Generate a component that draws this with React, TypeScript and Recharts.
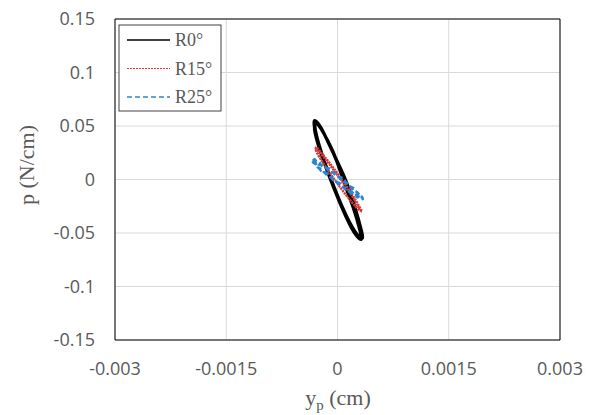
import React from 'react';
import { LineChart, Line, XAxis, YAxis, CartesianGrid, ReferenceArea } from 'recharts';

// hysteresis loops (y_p in cm, p in N/cm)
const r0Loop = [
  { x: -0.0003, y: 0.054 }, { x: -0.000215, y: 0.0468 }, { x: -0.000072, y: 0.027 }, { x: 0.00009, y: 0 },
  { x: 0.000228, y: -0.027 }, { x: 0.000305, y: -0.0468 }, { x: 0.0003, y: -0.054 }, { x: 0.000215, y: -0.0468 },
  { x: 0.000072, y: -0.027 }, { x: -0.00009, y: 0 }, { x: -0.000228, y: 0.027 }, { x: -0.000305, y: 0.0468 },
  { x: -0.00031, y: 0.055 }, { x: -0.00022, y: 0.048 }, { x: -0.00008, y: 0.028 }, { x: 0.0001, y: 0.001 },
  { x: 0.00024, y: -0.027 }, { x: 0.00032, y: -0.047 }, { x: 0.00033, y: -0.055 }, { x: 0.00023, y: -0.048 },
  { x: 0.00008, y: -0.028 }, { x: -0.00008, y: -0.001 }, { x: -0.00022, y: 0.026 }, { x: -0.0003, y: 0.047 },
  { x: -0.00029, y: 0.053 }, { x: -0.00021, y: 0.046 }, { x: -0.00006, y: 0.026 }, { x: 0.00008, y: -0.001 },
  { x: 0.00022, y: -0.028 }, { x: 0.0003, y: -0.047 }, { x: 0.00032, y: -0.056 }, { x: 0.00022, y: -0.049 },
  { x: 0.00007, y: -0.028 }, { x: -0.0001, y: 0.001 }, { x: -0.00024, y: 0.028 }, { x: -0.00031, y: 0.047 },
  { x: -0.00029, y: 0.053 },
];

const r15Loop = [
  { x: -0.0003, y: 0.029 }, { x: -0.00024, y: 0.0251 }, { x: -0.000115, y: 0.0145 }, { x: 0.00004, y: 0 },
  { x: 0.000185, y: -0.0145 }, { x: 0.00028, y: -0.0251 }, { x: 0.0003, y: -0.029 }, { x: 0.00024, y: -0.0251 },
  { x: 0.000115, y: -0.0145 }, { x: -0.00004, y: 0 }, { x: -0.000185, y: 0.0145 }, { x: -0.00028, y: 0.0251 },
  { x: -0.00029, y: 0.03 }, { x: -0.00023, y: 0.026 }, { x: -0.0001, y: 0.015 }, { x: 0.00005, y: 0.001 },
  { x: 0.0002, y: -0.014 }, { x: 0.0003, y: -0.026 }, { x: 0.00033, y: -0.03 }, { x: 0.00026, y: -0.026 },
  { x: 0.00012, y: -0.015 }, { x: -0.00003, y: -0.001 }, { x: -0.00018, y: 0.014 }, { x: -0.00027, y: 0.025 },
  { x: -0.00029, y: 0.03 },
];

const r25Loop = [
  { x: -0.00033, y: 0.018 }, { x: -0.0003, y: 0.0185 }, { x: -0.00026, y: 0.014 }, { x: -0.00019, y: 0.0135 },
  { x: -0.00011, y: 0.0075 }, { x: -0.00003, y: 0.0055 }, { x: 0.00006, y: -0.001 }, { x: 0.00014, y: -0.004 },
  { x: 0.00022, y: -0.0105 }, { x: 0.00027, y: -0.012 }, { x: 0.00032, y: -0.0165 }, { x: 0.00033, y: -0.016 },
  { x: 0.00034, y: -0.0185 }, { x: 0.0003, y: -0.016 }, { x: 0.00026, y: -0.0165 }, { x: 0.00019, y: -0.0115 },
  { x: 0.00011, y: -0.0095 }, { x: 0.00003, y: -0.0035 }, { x: -0.00006, y: -0.0005 }, { x: -0.00014, y: 0.0058 },
  { x: -0.00022, y: 0.008 }, { x: -0.00028, y: 0.0138 }, { x: -0.00031, y: 0.0148 }, { x: -0.00034, y: 0.0182 },
  { x: -0.00032, y: 0.0175 }, { x: -0.00031, y: 0.016 }, { x: -0.00025, y: 0.0165 }, { x: -0.0002, y: 0.0118 },
  { x: -0.0001, y: 0.0098 }, { x: -0.00002, y: 0.0035 }, { x: 0.00007, y: 0.0012 }, { x: 0.00015, y: -0.0058 },
  { x: 0.00021, y: -0.0078 }, { x: 0.00028, y: -0.0138 }, { x: 0.00031, y: -0.0145 }, { x: 0.00034, y: -0.018 },
  { x: 0.00033, y: -0.0172 }, { x: 0.00031, y: -0.0182 }, { x: 0.00025, y: -0.0145 }, { x: 0.0002, y: -0.0138 },
  { x: 0.0001, y: -0.0078 }, { x: 0.00004, y: -0.0058 }, { x: -0.00007, y: 0.0012 }, { x: -0.00013, y: 0.0032 },
  { x: -0.00023, y: 0.0102 }, { x: -0.00027, y: 0.0115 }, { x: -0.00032, y: 0.0168 }, { x: -0.00033, y: 0.0158 },
  { x: -0.00032, y: 0.0175 },
];

const xTicks = [-0.003, -0.0015, 0, 0.0015, 0.003];
const yTicks = [-0.15, -0.1, -0.05, 0, 0.05, 0.1, 0.15];

const series = [
  { name: 'R0°', data: r0Loop, color: '#000000', width: 3.2, dash: undefined, legendWidth: 1.5 },
  { name: 'R15°', data: r15Loop, color: '#d83a3a', width: 2.2, dash: '2 1', legendWidth: 1 },
  { name: 'R25°', data: r25Loop, color: '#2a84d4', width: 2.4, dash: '5 3', legendWidth: 1.5 },
];

const tickStyle = { fill: '#595959', fontSize: 18, fontFamily: 'Open Sans' };
const serif = '"Liberation Serif", "Times New Roman", serif';

const App: React.FC = () => {
  return (
    <div style={{ position: 'absolute', left: 0, top: 0, width: 597, height: 415, background: '#fff' }}>
      <LineChart width={597} height={415} margin={{ top: 19, right: 37, bottom: 45, left: 55 }}>
        <CartesianGrid stroke="#d9d9d9" />
        <XAxis
          type="number"
          dataKey="x"
          domain={[-0.003, 0.003]}
          ticks={xTicks}
          allowDataOverflow
          axisLine={false}
          tickLine={false}
          tickSize={0}
          tickMargin={22}
          height={30}
          tick={tickStyle}
          tickFormatter={(v) => String(v)}
        />
        <YAxis
          type="number"
          domain={[-0.15, 0.15]}
          ticks={yTicks}
          allowDataOverflow
          axisLine={false}
          tickLine={false}
          tickSize={0}
          tickMargin={20}
          width={60}
          tick={tickStyle}
          tickFormatter={(v) => String(v)}
        />
        <ReferenceArea x1={-0.003} x2={0.003} y1={-0.15} y2={0.15} fill="none" stroke="#000" strokeWidth={1} ifOverflow="visible" />
        {series.map((s) => (
          <Line
            key={s.name}
            name={s.name}
            data={s.data}
            dataKey="y"
            type="natural"
            stroke={s.color}
            strokeWidth={s.width}
            strokeDasharray={s.dash}
            dot={false}
            activeDot={false}
            isAnimationActive={false}
          />
        ))}

        {/* legend box */}
        <rect x={119} y={25} width={102} height={86} fill="#fff" stroke="#404040" strokeWidth={1} />
        {series.map((s, i) => (
          <g key={'lg' + s.name}>
            <line x1={127} x2={170} y1={40 + i * 28.5} y2={40 + i * 28.5} stroke={s.color} strokeWidth={s.legendWidth} strokeDasharray={s.dash} />
            <text x={175} y={46 + i * 28.5} fontSize={18} fontFamily={serif} fill="#595959">{s.name}</text>
          </g>
        ))}

        {/* axis titles */}
        <text x={34} y={165} transform="rotate(-90, 34, 165)" textAnchor="middle" fontSize={22} fontFamily={serif} fill="#595959">
          p (N/cm)
        </text>
        <text x={338} y={405} textAnchor="middle" fontSize={22} fontFamily={serif} fill="#595959">
          y<tspan dy={5} fontSize={15}>p</tspan><tspan dy={-5}> (cm)</tspan>
        </text>
      </LineChart>
    </div>
  );
};

export default App;
